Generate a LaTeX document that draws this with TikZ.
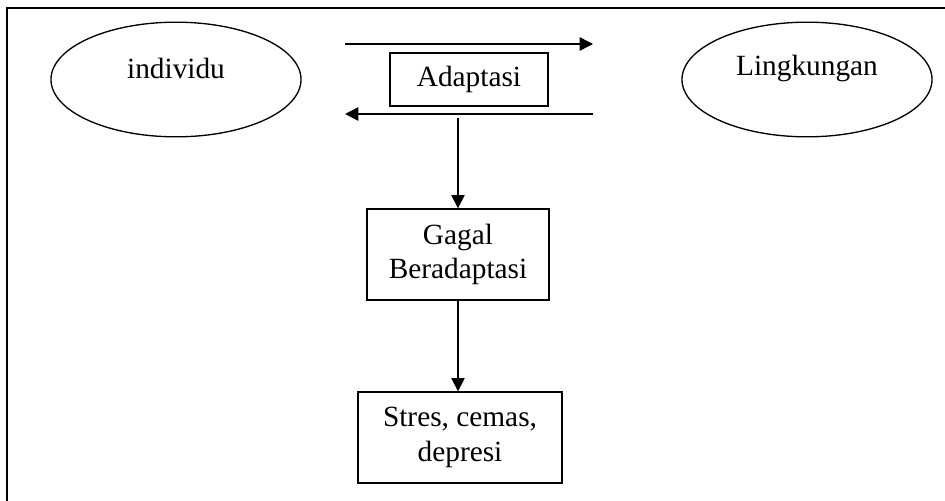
\documentclass[tikz,border=0pt]{standalone}
\usepackage{fontspec}
\setmainfont{Liberation Serif}
\usetikzlibrary{arrows.meta,shapes.geometric}
\begin{document}
\begin{tikzpicture}[x=0.75pt,y=-0.75pt,
  every node/.style={font=\fontsize{22}{26}\selectfont},
  ell/.style={draw,ellipse,line width=1pt,inner xsep=66.3pt,inner ysep=30.4pt,outer sep=0pt},
  box/.style={draw,rectangle,line width=1pt,inner sep=0pt,align=center},
  arr/.style={line width=1.1pt,-{Triangle[length=10pt,width=10pt]}},
  frame/.style={line width=1.5pt}]
\useasboundingbox (0,0) rectangle (945,500);
% frame (left and top edges)
\coordinate (fb) at (7,502);
\coordinate (fc) at (7,8);
\coordinate (fr) at (947,8);
\draw[frame] (fb) -- (fc) -- (fr);
% ellipses
\node[ell] (ind) at (176,79.5) {};
\node (indT) at (176,68) {individu};
\node[ell] (lin) at (807,79.5) {};
\node (linT) at (807,68) {Lingkungan};
% boxes
\node[box,minimum width=118.5pt,minimum height=39.75pt] (adp) at (469,79.5) {Adaptasi};
\node[box,minimum width=136.5pt,minimum height=68.25pt] (gag) at (458,254.5) {Gagal\\Beradaptasi};
\node[box,minimum width=153pt,minimum height=68.25pt] (str) at (460,437.5) {Stres, cemas,\\depresi};
% horizontal arrows
\coordinate (t1) at (345,44);
\coordinate (t2) at (593,44);
\coordinate (b1) at (593,114);
\coordinate (b2) at (345,114);
\draw[arr] (t1) -- (t2);
\draw[arr] (b1) -- (b2);
% vertical arrows
\coordinate (v1) at (458,118);
\draw[arr] (v1) -- (gag.north);
\draw[arr] (gag.south) -- (gag.south |- str.north);
\end{tikzpicture}
\end{document}
